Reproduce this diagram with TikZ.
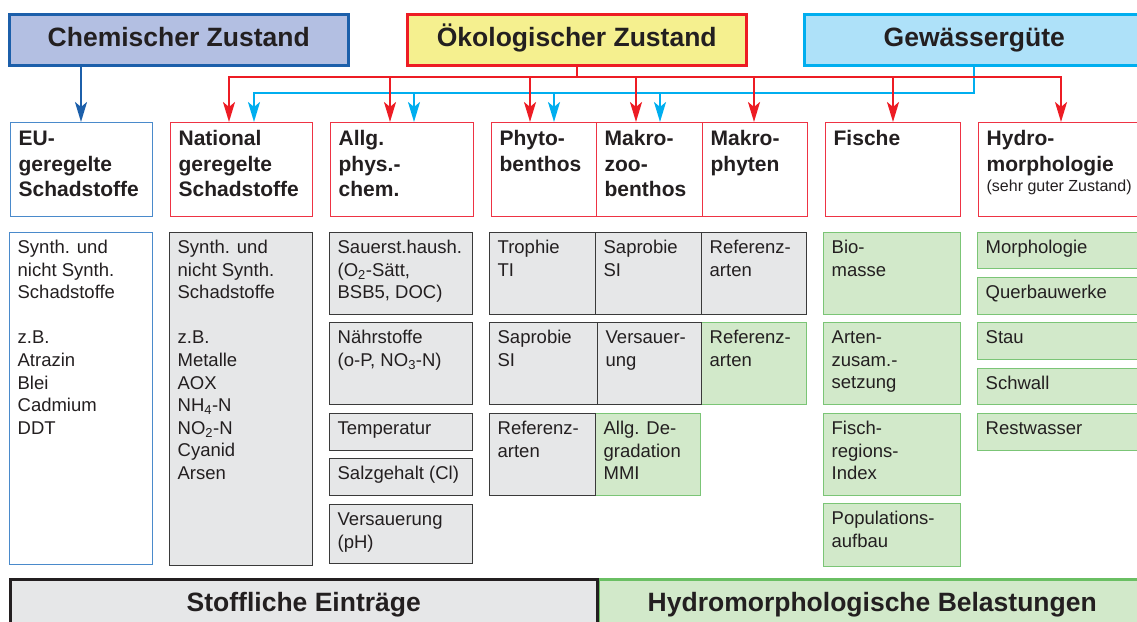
\documentclass[tikz,border=0pt]{standalone}
\usepackage{fontspec}
\setmainfont{Liberation Sans}
\usetikzlibrary{arrows.meta}

\definecolor{txtcol}{HTML}{231F20}
\definecolor{redc}{HTML}{ED1C24}
\definecolor{redthin}{HTML}{EE3344}
\definecolor{bluedark}{HTML}{1C5FAA}
\definecolor{bluethin}{HTML}{4A8ACB}
\definecolor{cyanc}{HTML}{00AEEF}
\definecolor{chemfill}{HTML}{B3BFE2}
\definecolor{oekfill}{HTML}{F5F08F}
\definecolor{gewfill}{HTML}{AEE1F9}
\definecolor{grayfill}{HTML}{E6E7E8}
\definecolor{grayline}{HTML}{3A3A3A}
\definecolor{greenfill}{HTML}{D2E9CA}
\definecolor{greenline}{HTML}{7BC576}
\definecolor{greenthick}{HTML}{6ABF63}

\newcommand{\fTitle}{\fontsize{26.5}{31}\selectfont\bfseries}
\newcommand{\fHead}{\fontsize{21}{25.5}\selectfont\bfseries}
\newcommand{\fBody}{\fontsize{18.5}{22.6}\selectfont}
\newcommand{\fNote}{\fontsize{16}{19}\selectfont\mdseries}
\newcommand{\fBar}{\fontsize{26.5}{31}\selectfont\bfseries}

% box text: outer width, outer height, text
\newcommand{\boxtext}[3]{\parbox[t][\dimexpr#2pt-10pt\relax][t]{\dimexpr#1pt-16pt\relax}{\raggedright\strut#3}}

\tikzset{
	titlebox/.style={anchor=north west, line width=2.5pt, font=\fTitle, text=txtcol,
		text height=19.3pt, text depth=5pt, inner sep=0pt},
	barbox/.style={anchor=north west, line width=2.5pt, font=\fBar, text=txtcol,
		text height=19.3pt, text depth=5.5pt, inner sep=0pt},
	cellbox/.style={anchor=north west, inner xsep=8pt, inner ysep=5pt, line width=1.3pt, text=txtcol},
	headred/.style={cellbox, draw=redthin, fill=white, font=\fHead},
	headblue/.style={cellbox, draw=bluethin, fill=white, font=\fHead},
	whitecell/.style={cellbox, draw=bluethin, fill=white, font=\fBody},
	graycell/.style={cellbox, draw=grayline, fill=grayfill, font=\fBody},
	greencell/.style={cellbox, draw=greenline, fill=greenfill, font=\fBody},
	tip/.style={-{Stealth[length=20pt, width=12pt, inset=5pt]}},
	darrow/.style={tip, draw=bluedark, line width=2.4pt},
	redline/.style={draw=redc, line width=2.4pt, line cap=rect},
	redarrow/.style={tip, draw=redc, line width=2.4pt},
	cyanline/.style={draw=cyanc, line width=2.4pt, line cap=rect},
	cyanarrow/.style={tip, draw=cyanc, line width=2.4pt}
}

\begin{document}
\begin{tikzpicture}[x=1pt, y=-1pt]
	\useasboundingbox (0,0) rectangle (1137,621);

	% top level
	\node[titlebox, draw=bluedark, fill=chemfill, minimum width=339, minimum height=51] (chem) at (8, 13)   {Chemischer Zustand};
	\node[titlebox, draw=redc, fill=oekfill, minimum width=339, minimum height=51]      (oek)  at (406, 13) {Ökologischer Zustand};
	\node[titlebox, draw=cyanc, fill=gewfill, minimum width=340, minimum height=51]     (gew)  at (803, 13) {Gewässergüte};

	% quality elements
	\node[headblue] (eu)    at (10, 122)  {\boxtext{142}{94}{EU-\\geregelte\\Schadstoffe}};
	\node[headred]  (nat)   at (170, 122) {\boxtext{142}{94}{National\\geregelte\\Schadstoffe}};
	\node[headred]  (allg)  at (330, 122) {\boxtext{143}{94}{Allg.\\phys.-\\chem.}};
	\node[headred]  (phyto) at (491, 122) {\boxtext{105}{94}{Phyto-\\benthos}};
	\node[headred]  (mzb)   at (596, 122) {\boxtext{106}{94}{Makro-\\zoo-\\benthos}};
	\node[headred]  (mph)   at (702, 122) {\boxtext{105}{94}{Makro-\\phyten}};
	\node[headred]  (fisch) at (825, 122) {\boxtext{135}{94}{Fische}};
	\node[headred]  (hydro) at (978, 122) {\boxtext{167}{94}{Hydro-\\morphologie\\[-5pt]{\fNote (sehr guter Zustand)}}};

	% parameters
	\node[whitecell] (eub)  at (9, 232)   {\boxtext{143}{332}{Synth. und\\nicht Synth.\\Schadstoffe\\[22.6pt]z.B.\\Atrazin\\Blei\\Cadmium\\DDT}};
	\node[graycell]  (natb) at (169, 232) {\boxtext{143}{333}{Synth. und\\nicht Synth.\\Schadstoffe\\[22.6pt]z.B.\\Metalle\\AOX\\NH\textsubscript{4}-N\\NO\textsubscript{2}-N\\Cyanid\\Arsen}};

	\node[graycell] (sauer) at (329, 232) {\boxtext{143}{82}{Sauerst.haush.\\(O\textsubscript{2}-Sätt,\\BSB5, DOC)}};
	\node[graycell] (naehr) at (329, 322) {\boxtext{143}{82}{Nährstoffe\\(o-P, NO\textsubscript{3}-N)}};
	\node[graycell] (temp)  at (329, 413) {\boxtext{143}{37}{Temperatur}};
	\node[graycell] (salz)  at (329, 458) {\boxtext{143}{37}{Salzgehalt (Cl)}};
	\node[graycell] (vers)  at (329, 504) {\boxtext{143}{59}{Versauerung\\(pH)}};

	% green ones first, gray borders on top
	\node[greencell] (ref2) at (701, 322) {\boxtext{105}{82}{Referenz-\\arten}};
	\node[greencell] (mmi)  at (595, 413) {\boxtext{105}{82}{Allg. De-\\gradation\\MMI}};

	\node[graycell] (troph) at (489, 232) {\boxtext{106}{82}{Trophie\\TI}};
	\node[graycell] (sap1)  at (595, 232) {\boxtext{106}{82}{Saprobie\\SI}};
	\node[graycell] (ref1)  at (701, 232) {\boxtext{105}{82}{Referenz-\\arten}};
	\node[graycell] (sap2)  at (489, 322) {\boxtext{108}{82}{Saprobie\\SI}};
	\node[graycell] (vsr)   at (597, 322) {\boxtext{104}{82}{Versauer-\\ung}};
	\node[graycell] (ref3)  at (489, 413) {\boxtext{106}{82}{Referenz-\\arten}};

	\node[greencell] (bio)   at (823, 232) {\boxtext{137}{82}{Bio-\\masse}};
	\node[greencell] (arten) at (823, 322) {\boxtext{137}{82}{Arten-\\zusam.-\\setzung}};
	\node[greencell] (fri)   at (823, 413) {\boxtext{137}{82}{Fisch-\\regions-\\Index}};
	\node[greencell] (pop)   at (823, 503) {\boxtext{137}{63}{Populations-\\aufbau}};

	\node[greencell] (morph)   at (977, 232) {\boxtext{168}{36}{Morphologie}};
	\node[greencell] (quer)    at (977, 277) {\boxtext{168}{37}{Querbauwerke}};
	\node[greencell] (stau)    at (977, 322) {\boxtext{168}{37}{Stau}};
	\node[greencell] (schwall) at (977, 368) {\boxtext{168}{36}{Schwall}};
	\node[greencell] (rest)    at (977, 413) {\boxtext{168}{37}{Restwasser}};

	% pressures
	\node[barbox, draw=greenthick, fill=greenfill, minimum width=548, minimum height=51] (hyb)   at (597, 578) {Hydromorphologische Belastungen};
	\node[barbox, draw=txtcol, fill=grayfill, minimum width=587, minimum height=51]     (stoff) at (9, 578)   {Stoffliche Einträge};

	% chemical state
	\draw[darrow] (81,0 |- chem.south) -- (81,0 |- eu.north);

	% water quality
	\draw[cyanline] (974,0 |- gew.south) -- (974, 93) -- (254, 93);
	\foreach \x/\n in {254/nat, 414/allg, 554/phyto, 660/mzb}
		\draw[cyanarrow] (\x, 93) -- (\x,0 |- \n.north);

	% ecological state
	\draw[redline] (oek.south) -- (oek.south |- 0,77);
	\draw[redline] (229, 77) -- (1061, 77);
	\foreach \x/\n in {229/nat, 390/allg, 530/phyto, 636/mzb, 754/mph, 893/fisch, 1061/hydro}
		\draw[redarrow] (\x, 77) -- (\x,0 |- \n.north);

\end{tikzpicture}
\end{document}
